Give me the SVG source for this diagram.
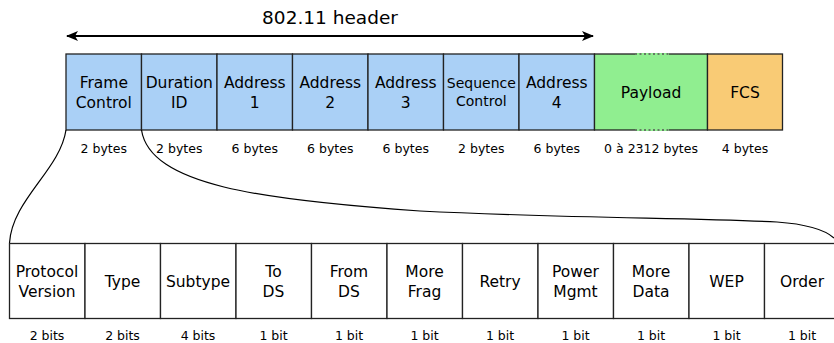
<svg xmlns="http://www.w3.org/2000/svg" width="834" height="343" viewBox="0 0 834 343">
<defs>
<marker id="ah" viewBox="0 0 12 10" refX="11" refY="5" markerWidth="12" markerHeight="10" markerUnits="userSpaceOnUse" orient="auto-start-reverse">
<path d="M0,0 L12,5 L0,10 L3,5 Z" fill="#000"/>
</marker>
<style>
text{font-family:"DejaVu Sans","Liberation Sans",sans-serif;fill:#000;text-anchor:middle}
.hd{fill:#aad0f6;stroke:#222;stroke-width:1.3}
.pl{fill:#90ee90;stroke:#222;stroke-width:1.3}
.fc{fill:#f9cb75;stroke:#222;stroke-width:1.3}
.bt{fill:#fff;stroke:#222;stroke-width:1.3}
.lb{font-size:15.5px}
.sm{font-size:12.5px}
.bb{font-size:12.5px}
.sq{font-size:14px}
.con{fill:none;stroke:#000;stroke-width:1.2}
</style>
</defs>
<text x="330" y="24" style="font-size:18.5px">802.11 header</text>
<line x1="67" y1="36" x2="593" y2="36" stroke="#000" stroke-width="2" marker-start="url(#ah)" marker-end="url(#ah)"/>

<g id="frame-control"><rect class="hd" x="66" y="54" width="75.5" height="76"/><text class="lb" x="103.8" y="88">Frame</text><text class="lb" x="103.8" y="108">Control</text><text class="sm" x="103.8" y="153">2 bytes</text></g>
<g id="duration-id"><rect class="hd" x="141.5" y="54" width="75.5" height="76"/><text class="lb" x="179.3" y="88">Duration</text><text class="lb" x="179.3" y="108">ID</text><text class="sm" x="179.3" y="153">2 bytes</text></g>
<g id="address1"><rect class="hd" x="217" y="54" width="75.5" height="76"/><text class="lb" x="254.8" y="88">Address</text><text class="lb" x="254.8" y="108">1</text><text class="sm" x="254.8" y="153">6 bytes</text></g>
<g id="address2"><rect class="hd" x="292.5" y="54" width="75.5" height="76"/><text class="lb" x="330.3" y="88">Address</text><text class="lb" x="330.3" y="108">2</text><text class="sm" x="330.3" y="153">6 bytes</text></g>
<g id="address3"><rect class="hd" x="368" y="54" width="75.5" height="76"/><text class="lb" x="405.8" y="88">Address</text><text class="lb" x="405.8" y="108">3</text><text class="sm" x="405.8" y="153">6 bytes</text></g>
<g id="sequence-control"><rect class="hd" x="443.5" y="54" width="75.5" height="76"/><text class="sq" x="481.3" y="88">Sequence</text><text class="sq" x="481.3" y="106">Control</text><text class="sm" x="481.3" y="153">2 bytes</text></g>
<g id="address4"><rect class="hd" x="519" y="54" width="75.5" height="76"/><text class="lb" x="556.8" y="88">Address</text><text class="lb" x="556.8" y="108">4</text><text class="sm" x="556.8" y="153">6 bytes</text></g>
<g id="payload"><rect class="pl" x="594.5" y="54" width="113" height="76"/>
<line x1="635" y1="54" x2="669" y2="54" stroke="#90ee90" stroke-width="2"/><line x1="635" y1="54" x2="669" y2="54" stroke="#555" stroke-width="1.3" stroke-dasharray="2,2.5"/>
<line x1="635" y1="130" x2="669" y2="130" stroke="#90ee90" stroke-width="2"/><line x1="635" y1="130" x2="669" y2="130" stroke="#555" stroke-width="1.3" stroke-dasharray="2,2.5"/>
<text class="lb" x="651" y="98">Payload</text><text class="sm" x="651" y="153">0 à 2312 bytes</text></g>
<g id="fcs"><rect class="fc" x="707.5" y="54" width="75" height="76"/><text class="lb" x="745" y="98">FCS</text><text class="sm" x="745" y="153">4 bytes</text></g>

<g id="connectors">
<path class="con" d="M66,130 C60,170 12,200 9.5,243"/>
<path class="con" d="M141.5,130 C150,185 260,200 420,211 C560,218 700,218 777,222 C805,224 825,230 834,238"/>
</g>

<g id="protocol-version"><rect class="bt" x="9.5" y="243.5" width="75.5" height="75"/><text class="lb" x="47" y="276.5">Protocol</text><text class="lb" x="47" y="296.5">Version</text><text class="bb" x="47" y="339.5">2 bits</text></g>
<g id="type"><rect class="bt" x="85" y="243.5" width="75.5" height="75"/><text class="lb" x="122.5" y="287">Type</text><text class="bb" x="122.5" y="339.5">2 bits</text></g>
<g id="subtype"><rect class="bt" x="160.5" y="243.5" width="75.5" height="75"/><text class="lb" x="198" y="287">Subtype</text><text class="bb" x="198" y="339.5">4 bits</text></g>
<g id="to-ds"><rect class="bt" x="236" y="243.5" width="75.5" height="75"/><text class="lb" x="273.5" y="276.5">To</text><text class="lb" x="273.5" y="296.5">DS</text><text class="bb" x="273.5" y="339.5">1 bit</text></g>
<g id="from-ds"><rect class="bt" x="311.5" y="243.5" width="75.5" height="75"/><text class="lb" x="349" y="276.5">From</text><text class="lb" x="349" y="296.5">DS</text><text class="bb" x="349" y="339.5">1 bit</text></g>
<g id="more-frag"><rect class="bt" x="387" y="243.5" width="75.5" height="75"/><text class="lb" x="424.5" y="276.5">More</text><text class="lb" x="424.5" y="296.5">Frag</text><text class="bb" x="424.5" y="339.5">1 bit</text></g>
<g id="retry"><rect class="bt" x="462.5" y="243.5" width="75.5" height="75"/><text class="lb" x="500" y="287">Retry</text><text class="bb" x="500" y="339.5">1 bit</text></g>
<g id="power-mgmt"><rect class="bt" x="538" y="243.5" width="75.5" height="75"/><text class="lb" x="575.5" y="276.5">Power</text><text class="lb" x="575.5" y="296.5">Mgmt</text><text class="bb" x="575.5" y="339.5">1 bit</text></g>
<g id="more-data"><rect class="bt" x="613.5" y="243.5" width="75.5" height="75"/><text class="lb" x="651" y="276.5">More</text><text class="lb" x="651" y="296.5">Data</text><text class="bb" x="651" y="339.5">1 bit</text></g>
<g id="wep"><rect class="bt" x="689" y="243.5" width="75.5" height="75"/><text class="lb" x="726.5" y="287">WEP</text><text class="bb" x="726.5" y="339.5">1 bit</text></g>
<g id="order"><rect class="bt" x="764.5" y="243.5" width="75.5" height="75"/><text class="lb" x="802" y="287">Order</text><text class="bb" x="802" y="339.5">1 bit</text></g>
</svg>
